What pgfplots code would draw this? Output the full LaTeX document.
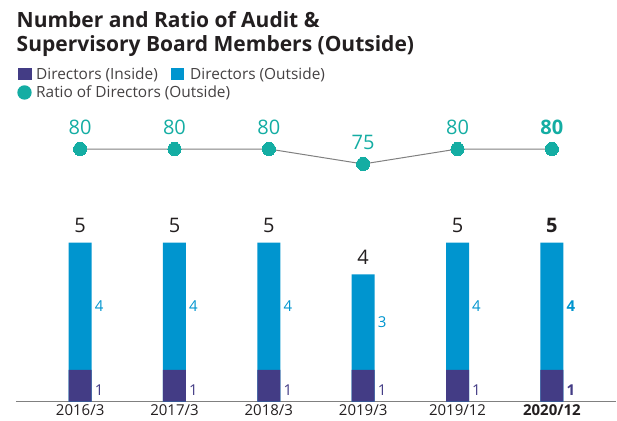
\documentclass[border=0pt]{standalone}
\usepackage{pgfplots}
\pgfplotsset{compat=1.18}
\usepackage{fontspec}
\setmainfont{Open Sans}
\definecolor{cInside}{HTML}{433C85}
\definecolor{cOutside}{HTML}{0095CF}
\definecolor{cRatio}{HTML}{14ADA3}
\definecolor{cText}{HTML}{231F20}
\definecolor{cLine}{HTML}{808080}
\begin{document}
\begin{tikzpicture}
\path (0pt,0pt) rectangle (617pt,420pt);
% title
\node[anchor=base west, inner sep=0, font=\fontsize{21}{24}\selectfont\bfseries, text=cText] at (16.5pt,392pt) {Number and Ratio of Audit \&};
\node[anchor=base west, inner sep=0, font=\fontsize{21}{24}\selectfont\bfseries, text=cText] at (16.5pt,368.3pt) {Supervisory Board Members (Outside)};
% legend
\fill[cInside] (18pt,340pt) rectangle (31.5pt,352pt);
\node[anchor=base west, inner sep=0, font=\fontsize{15.4}{18}\selectfont, text=cText!85] at (36pt,340pt) {Directors (Inside)};
\fill[cOutside] (171pt,340pt) rectangle (184pt,352pt);
\node[anchor=base west, inner sep=0, font=\fontsize{15.4}{18}\selectfont, text=cText!85] at (190pt,340pt) {Directors (Outside)};
\fill[cRatio] (24.5pt,327.5pt) circle (7.2pt);
\node[anchor=base west, inner sep=0, font=\fontsize{15.4}{18}\selectfont, text=cText!85] at (36pt,322.7pt) {Ratio of Directors (Outside)};

% bars
\begin{axis}[
  at={(16pt,18.3pt)}, anchor=south west,
  scale only axis, width=600pt, height=291.7pt,
  xmin=-0.68, xmax=5.68, ymin=0, ymax=9.17,
  axis x line=bottom, x axis line style={-, draw=cLine, line width=1pt},
  axis y line=none,
  xtick={0,1,2,3,4,5},
  xticklabels={2016/3,2017/3,2018/3,2019/3,2019/12,\textbf{2020/12}},
  major tick length=0pt,
  xticklabel style={font=\fontsize{15}{18}\selectfont, text=cText, anchor=north, inner sep=0pt, yshift=-3pt},
  clip=false,
]
% outside segment drawn as the full bar (total), inside segment over it
\addplot[ybar, bar width=23pt, bar shift=0pt, fill=cOutside, draw=none,
  point meta=explicit symbolic, nodes near coords,
  every node near coord/.style={anchor=south, inner sep=0pt, yshift=10pt, font=\fontsize{20}{22}\selectfont, text=cText}]
  coordinates {(0,5)[5] (1,5)[5] (2,5)[5] (3,4)[4] (4,5)[5] (5,5)[\textbf{5}]};
\addplot[ybar, bar width=23pt, bar shift=0pt, fill=cInside, draw=none]
  coordinates {(0,1) (1,1) (2,1) (3,1) (4,1) (5,1)};
% segment labels: outside
\addplot[draw=none, mark=none, point meta=explicit symbolic, nodes near coords,
  every node near coord/.style={anchor=west, inner sep=0pt, xshift=14.5pt, font=\fontsize{15}{18}\selectfont, text=cOutside}]
  coordinates {(0,3)[4] (1,3)[4] (2,3)[4] (3,2.5)[3] (4,3)[4] (5,3)[\textbf{4}]};
% segment labels: inside
\addplot[draw=none, mark=none, point meta=explicit symbolic, nodes near coords,
  every node near coord/.style={anchor=west, inner sep=0pt, xshift=14.5pt, font=\fontsize{15}{18}\selectfont, text=cInside}]
  coordinates {(0,0.35)[1] (1,0.35)[1] (2,0.35)[1] (3,0.35)[1] (4,0.35)[1] (5,0.35)[\textbf{1}]};
\end{axis}

% ratio line
\begin{axis}[
  at={(16pt,18.3pt)}, anchor=south west,
  scale only axis, width=600pt, height=291.7pt,
  xmin=-0.68, xmax=5.68, ymin=-4.23, ymax=93,
  axis lines=none, clip=false,
]
\addplot[color=cLine, line width=1pt, mark=*, mark size=6.6pt,
  mark options={fill=cRatio, draw=cRatio, line width=0pt},
  point meta=explicit symbolic, nodes near coords,
  every node near coord/.style={anchor=south, inner sep=0pt, yshift=14pt, font=\fontsize{20}{22}\selectfont, text=cRatio}]
  coordinates {(0,80)[80] (1,80)[80] (2,80)[80] (3,75)[75] (4,80)[80] (5,80)[\textbf{80}]};
\end{axis}
\end{tikzpicture}
\end{document}
